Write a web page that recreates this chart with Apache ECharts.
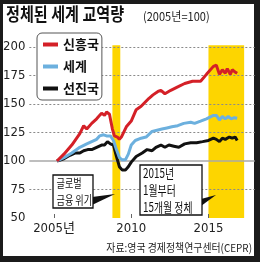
<!DOCTYPE html>
<html><head><meta charset="utf-8">
<script src="https://cdn.jsdelivr.net/npm/echarts@6/dist/echarts.min.js"></script>
<style>
html,body{margin:0;padding:0;background:#1b1b1b;}
#wrap{position:relative;width:260px;height:262px;background:#1b1b1b;overflow:hidden;}
#paper{position:absolute;left:3px;top:4px;width:251px;height:252px;background:#fff;}
#chart{position:absolute;left:0;top:0;width:260px;height:262px;}
</style></head><body>
<div id="wrap"><div id="paper"></div><div id="chart"></div></div>
<script>
// ---- data (index, 2005 = 100) ----
const seriesNames = ['신흥국', '세계', '선진국'];
const emerging = [[2005.19,100],[2005.64,106],[2006.15,114],[2006.67,124],[2006.92,131],[2007.12,128],[2007.44,133],[2007.76,137],[2008.08,142],[2008.27,140],[2008.40,143],[2008.59,141],[2008.78,128],[2008.91,122],[2009.10,121],[2009.23,119],[2009.36,121],[2009.68,130],[2010.00,135],[2010.32,145],[2010.64,148],[2011.15,155],[2011.41,158],[2011.73,161],[2011.92,162],[2012.18,159],[2012.56,162],[2013.01,165],[2013.46,168],[2013.97,170],[2014.49,170],[2014.87,176],[2015.32,183],[2015.51,184],[2015.71,176],[2015.90,180],[2016.09,177],[2016.22,181],[2016.41,176],[2016.54,180],[2016.73,178],[2016.86,177]];
const world = [[2005.19,100],[2005.64,103],[2006.15,107],[2006.67,112],[2007.12,115],[2007.44,117],[2007.76,119],[2007.95,122],[2008.21,123],[2008.40,122],[2008.65,122],[2008.85,118],[2009.04,110],[2009.23,103],[2009.42,101],[2009.62,101],[2009.81,106],[2010.00,114],[2010.26,118],[2010.64,120],[2010.96,121],[2011.35,126],[2011.67,127],[2011.99,128],[2012.31,129],[2012.63,130],[2013.01,131],[2013.40,133],[2013.85,134],[2014.10,133],[2014.49,135],[2014.87,137],[2015.32,140],[2015.51,140],[2015.71,136],[2015.90,139],[2016.09,137],[2016.28,139],[2016.47,137],[2016.67,138],[2016.86,137.5]];
const advanced = [[2005.19,100],[2005.64,102],[2006.03,105],[2006.35,107],[2006.67,107],[2006.92,109],[2007.18,110],[2007.44,110],[2007.76,112],[2008.08,114],[2008.27,114],[2008.46,117],[2008.65,115],[2008.85,114],[2009.04,104],[2009.23,95],[2009.42,92],[2009.62,92],[2009.81,95],[2010.00,99],[2010.32,104],[2010.71,107],[2011.03,110],[2011.35,109],[2011.60,112],[2011.92,114],[2012.18,112],[2012.44,114],[2012.76,113],[2013.08,112],[2013.46,115],[2013.85,116],[2014.23,116],[2014.62,117],[2015.00,118],[2015.32,120],[2015.51,119],[2015.71,117],[2015.90,120],[2016.09,119],[2016.35,121],[2016.54,120],[2016.73,121],[2016.86,118]];
const bands = [[2008.78, 2009.29], [2015.0, 2017.31]];
const xTickValues = [2005, 2010, 2015];
const xTickLabels = ['2005년', '2010', '2015'];
const baseValue = 100;
const titleText = '정체된 세계 교역량';
const subtitleText = '(2005년=100)';
const sourceText = '자료:영국 경제정책연구센터(CEPR)';
const note1 = '글로벌\n금융 위기';
const note2 = '2015년\n1월부터\n15개월 정체';

const Y_MIN = 50, Y_MAX = 200;
const KR = "'Noto Sans CJK KR', 'Noto Sans', sans-serif";
const NARROW = "'Liberation Sans Narrow', 'DejaVu Sans Condensed', 'Noto Sans CJK KR', sans-serif";
const colors = {'신흥국': '#d42027', '세계': '#6cb0de', '선진국': '#111111'};
const dataByName = {'신흥국': emerging, '세계': world, '선진국': advanced};

const chart = echarts.init(document.getElementById('chart'), null, {renderer: 'canvas'});

const lineSeries = ['선진국', '세계', '신흥국'].map(n => ({
  name: n, type: 'line', data: dataByName[n], showSymbol: false, symbol: 'none',
  lineStyle: {color: colors[n], width: 3}, itemStyle: {color: colors[n]}, z: 3
}));

chart.setOption({
  animation: false,
  grid: {left: 27, right: 5.2, top: 47, bottom: 44},
  xAxis: {
    type: 'value', min: 2003.4, max: 2018,
    axisLine: {show: false},
    axisTick: {show: true, inside: true, length: 4, customValues: xTickValues, lineStyle: {color: '#666'}},
    axisLabel: {customValues: xTickValues, margin: 4, fontSize: 13, fontFamily: NARROW, color: '#222',
      formatter: v => xTickLabels[xTickValues.indexOf(v)] || String(v)},
    splitLine: {show: false}
  },
  yAxis: {
    type: 'value', min: Y_MIN, max: Y_MAX, interval: 25,
    axisLine: {show: false}, axisTick: {show: false},
    axisLabel: {margin: 4, fontSize: 13, fontFamily: NARROW, color: '#222'},
    splitLine: {show: true, lineStyle: {type: [2, 2], width: 1,
      color: ['rgba(0,0,0,0)', '#8a8a8a', 'rgba(0,0,0,0)', '#8a8a8a', '#8a8a8a', '#8a8a8a', '#8a8a8a']}}
  },
  legend: {
    data: seriesNames, orient: 'vertical', left: 37, top: 33,
    padding: [5, 3, 5, 6], itemGap: 9, itemWidth: 15, itemHeight: 4, icon: 'rect',
    borderColor: '#555', borderWidth: 1, borderRadius: 5,
    textStyle: {fontSize: 13, fontFamily: KR, color: '#111', fontWeight: 'bold'},
    backgroundColor: '#fff'
  },
  series: [
    {
      name: 'bands', type: 'custom', z: -2, silent: true,
      data: bands, encode: {x: [0, 1]},
      renderItem: (params, api) => {
        const p0 = api.coord([api.value(0), Y_MAX + 1.5]);
        const p1 = api.coord([api.value(1), Y_MIN]);
        return {type: 'rect', shape: {x: p0[0], y: p0[1], width: p1[0] - p0[0], height: p1[1] - p0[1]},
          style: {fill: '#fdd500'}};
      },
      markLine: {silent: true, symbol: 'none', z: -1, label: {show: false},
        lineStyle: {color: '#a8a8a8', type: 'solid', width: 1.5},
        data: [{yAxis: baseValue}]}
    },
    ...lineSeries
  ],
  graphic: [
    {type: 'text', x: 6, y: 14, scaleX: 0.84, style: {text: titleText, fontSize: 18, fontWeight: 'bold', fontFamily: KR, fill: '#111', textAlign: 'left', textVerticalAlign: 'middle'}},
    {type: 'text', x: 143, y: 16, scaleX: 0.92, style: {text: subtitleText, fontSize: 12, fontFamily: KR, fill: '#222', textAlign: 'left', textVerticalAlign: 'middle'}},
    {type: 'text', x: 252, y: 248, scaleX: 0.9, style: {text: sourceText, fontSize: 11, fontFamily: KR, fill: '#222', textAlign: 'right', textVerticalAlign: 'middle'}},
    {type: 'polygon', z: 10, shape: {points: [[92, 197], [92, 205], [115, 194]]}, style: {fill: '#111'}},
    {type: 'rect', z: 10, shape: {x: 53, y: 175, width: 40, height: 33}, style: {fill: '#fff', stroke: '#111', lineWidth: 1.3}},
    {type: 'text', z: 11, x: 56.5, y: 174.5, scaleX: 0.76, style: {text: note1, fontSize: 12, lineHeight: 17, fontFamily: KR, fill: '#111', textAlign: 'left', textVerticalAlign: 'top'}},
    {type: 'polygon', z: 10, shape: {points: [[201, 199], [201, 206], [216, 195]]}, style: {fill: '#111'}},
    {type: 'rect', z: 10, shape: {x: 140, y: 165, width: 62, height: 50}, style: {fill: '#fff', stroke: '#111', lineWidth: 1.3}},
    {type: 'text', z: 11, x: 143, y: 164.5, scaleX: 0.76, style: {text: note2, fontSize: 13, lineHeight: 17, fontFamily: KR, fill: '#111', textAlign: 'left', textVerticalAlign: 'top'}}
  ]
});
</script>
</body></html>
